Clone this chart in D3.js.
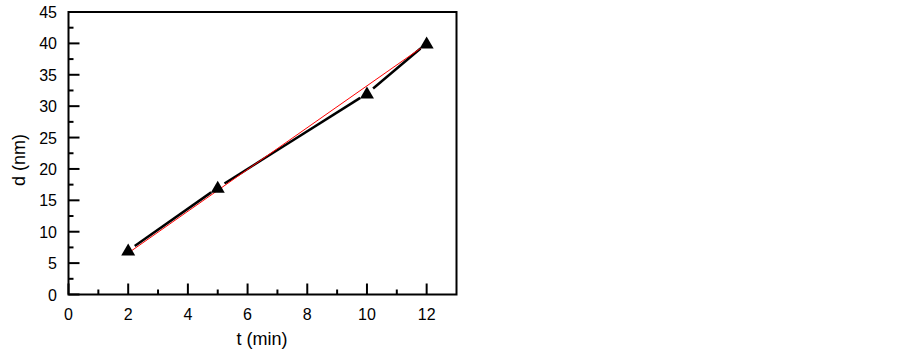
<!DOCTYPE html>
<html>
<head>
<meta charset="utf-8">
<script src="https://cdn.jsdelivr.net/npm/d3@7"></script>
<style>
  body { margin: 0; background: #fff; }
  svg { font-family: "Liberation Sans", Arial, sans-serif; }
</style>
</head>
<body>
<svg id="chart" width="903" height="352"></svg>
<script>
var tValues = [2, 5, 10, 12];
var dValues = [7, 17, 32, 40];
var fitT = [2, 12];
var fitD = [6.6, 39.9];
var xTicks = [0, 2, 4, 6, 8, 10, 12];
var yTicks = [0, 5, 10, 15, 20, 25, 30, 35, 40, 45];

var plotLeft = 68.5, plotRight = 456.5, plotTop = 12, plotBottom = 294.5;
var svg = d3.select("#chart");

var x = d3.scaleLinear().domain([0, 13]).range([plotLeft, plotRight]);
var y = d3.scaleLinear().domain([0, 45]).range([plotBottom, plotTop]);

// frame
svg.append("rect")
  .attr("x", plotLeft).attr("y", plotTop)
  .attr("width", plotRight - plotLeft).attr("height", plotBottom - plotTop)
  .attr("fill", "none").attr("stroke", "black").attr("stroke-width", 2);

// x ticks (inward)
var xMinor = d3.range(1, 13, 2);
svg.selectAll(".xt").data(xTicks).enter().append("line")
  .attr("x1", d => x(d)).attr("x2", d => x(d))
  .attr("y1", plotBottom).attr("y2", plotBottom - 11)
  .attr("stroke", "black").attr("stroke-width", 2);
svg.selectAll(".xm").data(xMinor).enter().append("line")
  .attr("x1", d => x(d)).attr("x2", d => x(d))
  .attr("y1", plotBottom).attr("y2", plotBottom - 5)
  .attr("stroke", "black").attr("stroke-width", 2);
svg.selectAll(".xl").data(xTicks).enter().append("text")
  .attr("x", d => x(d)).attr("y", 320)
  .attr("text-anchor", "middle").attr("font-size", 16)
  .text(d => d);

// y ticks (inward)
var yMinor = d3.range(2.5, 45, 5);
svg.selectAll(".yt").data(yTicks).enter().append("line")
  .attr("x1", plotLeft).attr("x2", plotLeft + 11)
  .attr("y1", d => y(d)).attr("y2", d => y(d))
  .attr("stroke", "black").attr("stroke-width", 2);
svg.selectAll(".ym").data(yMinor).enter().append("line")
  .attr("x1", plotLeft).attr("x2", plotLeft + 5)
  .attr("y1", d => y(d)).attr("y2", d => y(d))
  .attr("stroke", "black").attr("stroke-width", 2);
svg.selectAll(".yl").data(yTicks).enter().append("text")
  .attr("x", 57).attr("y", d => y(d) + 6)
  .attr("text-anchor", "end").attr("font-size", 16)
  .text(d => d);

// axis titles
svg.append("text")
  .attr("x", 262).attr("y", 345)
  .attr("text-anchor", "middle").attr("font-size", 18)
  .text("t (min)");
svg.append("text")
  .attr("transform", "translate(25,160) rotate(-90)")
  .attr("text-anchor", "middle").attr("font-size", 18)
  .text("d (nm)");

// data line, broken near the markers
var pts = tValues.map((t, i) => [x(t), y(dValues[i])]);
var gap = 8;
for (var i = 0; i < pts.length - 1; i++) {
  var a = pts[i], b = pts[i + 1];
  var dx = b[0] - a[0], dy = b[1] - a[1];
  var len = Math.sqrt(dx * dx + dy * dy);
  var ux = dx / len, uy = dy / len;
  svg.append("line")
    .attr("x1", a[0] + ux * gap).attr("y1", a[1] + uy * gap)
    .attr("x2", b[0] - ux * gap).attr("y2", b[1] - uy * gap)
    .attr("stroke", "black").attr("stroke-width", 2.5);
}

// linear fit
svg.append("line")
  .attr("x1", x(fitT[0])).attr("y1", y(fitD[0]))
  .attr("x2", x(fitT[1])).attr("y2", y(fitD[1]))
  .attr("stroke", "red").attr("stroke-width", 1);

// triangle markers
svg.selectAll(".mk").data(tValues).enter().append("path")
  .attr("d", "M0,-7L7,5L-7,5Z")
  .attr("transform", (d, i) => "translate(" + x(d) + "," + y(dValues[i]) + ")")
  .attr("fill", "black");
</script>
</body>
</html>
